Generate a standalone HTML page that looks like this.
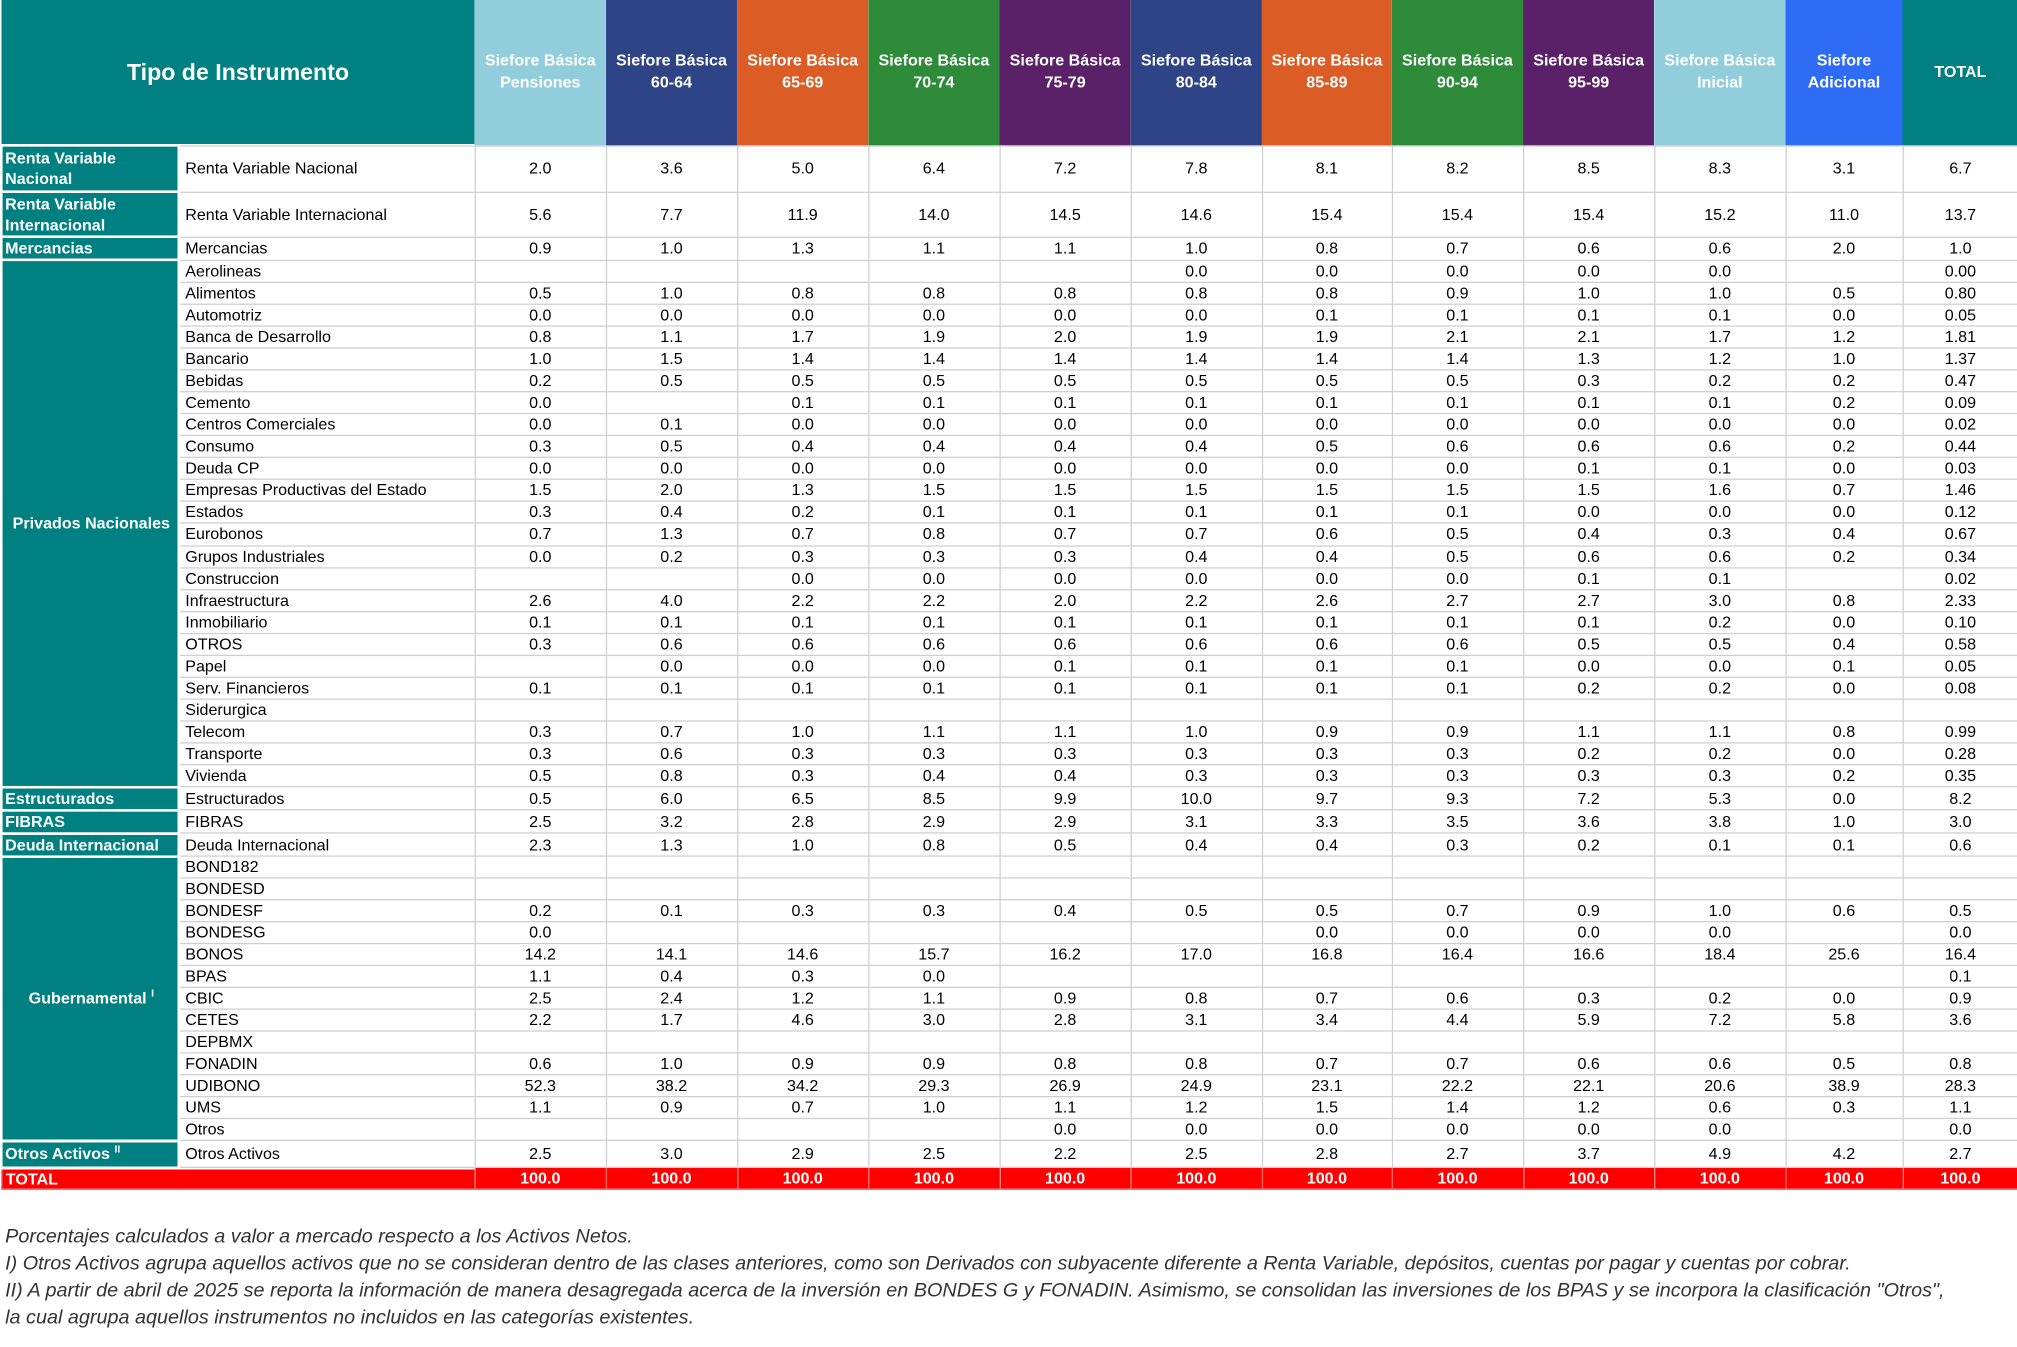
<!DOCTYPE html>
<html><head><meta charset="utf-8">
<style>
html,body{margin:0;padding:0;background:#fff;width:2017px;height:1347px;overflow:hidden}
#wrap{position:absolute;left:0;top:0;width:1568px;height:1047px;transform:scale(1.28635);transform-origin:0 0;font-family:"Liberation Sans",Arial,sans-serif}
table{border-collapse:collapse;table-layout:fixed;position:absolute;left:0;top:0;width:1568px}
td,th{padding:0;font-size:12.5px;line-height:14px;color:#000;border:1px solid #cfcfcf;overflow:hidden;white-space:nowrap}
th{color:#fff;font-weight:bold;font-size:12.5px;line-height:17px;height:112px;border:none}
td.v{text-align:center}
td.ins{padding-left:4px;text-align:left}
td.cat{background:#008080;color:#fff;font-weight:bold;border:2px solid #fff;padding-left:2px;white-space:normal;line-height:16px}
td.catc{text-align:center}
tr.tot td{background:#ff0000;color:#fff;font-weight:bold;border-color:#f06060}
#notes{position:absolute;left:4px;top:951px;font-style:italic;font-size:15.4px;line-height:21px;color:#333;white-space:nowrap}
sup{font-size:8px;line-height:0}
</style></head><body>
<div id="wrap">
<table id="t">
<colgroup><col style="width:138px"><col style="width:230px"><col style="width:102px"><col style="width:102px"><col style="width:102px"><col style="width:102px"><col style="width:102px"><col style="width:102px"><col style="width:101px"><col style="width:102px"><col style="width:102px"><col style="width:102px"><col style="width:91px"><col style="width:90px"></colgroup>
<thead><tr id="hdr">
<th colspan="2" style="background:#008080;font-size:18px">Tipo de Instrumento</th>
</tr></thead>
<tbody id="tb"></tbody>
</table>
<div id="notes">
<div>Porcentajes calculados a valor a mercado respecto a los Activos Netos.</div>
<div>I) Otros Activos agrupa aquellos activos que no se consideran dentro de las clases anteriores, como son Derivados con subyacente diferente a Renta Variable, depósitos, cuentas por pagar y cuentas por cobrar.</div>
<div>II) A partir de abril de 2025 se reporta la información de manera desagregada acerca de la inversión en BONDES G y FONADIN. Asimismo, se consolidan las inversiones de los BPAS y se incorpora la clasificación "Otros",</div>
<div>la cual agrupa aquellos instrumentos no incluidos en las categorías existentes.</div>
</div>
</div>
<script>
const headers=["Siefore Básica<br>Pensiones","Siefore Básica<br>60-64","Siefore Básica<br>65-69","Siefore Básica<br>70-74","Siefore Básica<br>75-79","Siefore Básica<br>80-84","Siefore Básica<br>85-89","Siefore Básica<br>90-94","Siefore Básica<br>95-99","Siefore Básica<br>Inicial","Siefore<br>Adicional","TOTAL"];
const headerColors=["#92CDDC","#2E4486","#DC5C26","#2E8B3A","#5A2068","#2E4486","#DC5C26","#2E8B3A","#5A2068","#92CDDC","#2F6CF5","#008080"];
const groups=[
["Renta Variable Nacional",1,36],["Renta Variable Internacional",1,35],["Mercancias",1,17],
["Privados Nacionales",24,17.08],["Estructurados",1,17.5],["FIBRAS",1,17.5],["Deuda Internacional",1,18],
["Gubernamental <sup>I</sup>",13,17.0],["Otros Activos <sup>II</sup>",1,21]];
const rows=[
["Renta Variable Nacional","2.0 3.6 5.0 6.4 7.2 7.8 8.1 8.2 8.5 8.3 3.1 6.7"],
["Renta Variable Internacional","5.6 7.7 11.9 14.0 14.5 14.6 15.4 15.4 15.4 15.2 11.0 13.7"],
["Mercancias","0.9 1.0 1.3 1.1 1.1 1.0 0.8 0.7 0.6 0.6 2.0 1.0"],
["Aerolineas","- - - - - 0.0 0.0 0.0 0.0 0.0 - 0.00"],
["Alimentos","0.5 1.0 0.8 0.8 0.8 0.8 0.8 0.9 1.0 1.0 0.5 0.80"],
["Automotriz","0.0 0.0 0.0 0.0 0.0 0.0 0.1 0.1 0.1 0.1 0.0 0.05"],
["Banca de Desarrollo","0.8 1.1 1.7 1.9 2.0 1.9 1.9 2.1 2.1 1.7 1.2 1.81"],
["Bancario","1.0 1.5 1.4 1.4 1.4 1.4 1.4 1.4 1.3 1.2 1.0 1.37"],
["Bebidas","0.2 0.5 0.5 0.5 0.5 0.5 0.5 0.5 0.3 0.2 0.2 0.47"],
["Cemento","0.0 - 0.1 0.1 0.1 0.1 0.1 0.1 0.1 0.1 0.2 0.09"],
["Centros Comerciales","0.0 0.1 0.0 0.0 0.0 0.0 0.0 0.0 0.0 0.0 0.0 0.02"],
["Consumo","0.3 0.5 0.4 0.4 0.4 0.4 0.5 0.6 0.6 0.6 0.2 0.44"],
["Deuda CP","0.0 0.0 0.0 0.0 0.0 0.0 0.0 0.0 0.1 0.1 0.0 0.03"],
["Empresas Productivas del Estado","1.5 2.0 1.3 1.5 1.5 1.5 1.5 1.5 1.5 1.6 0.7 1.46"],
["Estados","0.3 0.4 0.2 0.1 0.1 0.1 0.1 0.1 0.0 0.0 0.0 0.12"],
["Eurobonos","0.7 1.3 0.7 0.8 0.7 0.7 0.6 0.5 0.4 0.3 0.4 0.67"],
["Grupos Industriales","0.0 0.2 0.3 0.3 0.3 0.4 0.4 0.5 0.6 0.6 0.2 0.34"],
["Construccion","- - 0.0 0.0 0.0 0.0 0.0 0.0 0.1 0.1 - 0.02"],
["Infraestructura","2.6 4.0 2.2 2.2 2.0 2.2 2.6 2.7 2.7 3.0 0.8 2.33"],
["Inmobiliario","0.1 0.1 0.1 0.1 0.1 0.1 0.1 0.1 0.1 0.2 0.0 0.10"],
["OTROS","0.3 0.6 0.6 0.6 0.6 0.6 0.6 0.6 0.5 0.5 0.4 0.58"],
["Papel","- 0.0 0.0 0.0 0.1 0.1 0.1 0.1 0.0 0.0 0.1 0.05"],
["Serv. Financieros","0.1 0.1 0.1 0.1 0.1 0.1 0.1 0.1 0.2 0.2 0.0 0.08"],
["Siderurgica","- - - - - - - - - - - -"],
["Telecom","0.3 0.7 1.0 1.1 1.1 1.0 0.9 0.9 1.1 1.1 0.8 0.99"],
["Transporte","0.3 0.6 0.3 0.3 0.3 0.3 0.3 0.3 0.2 0.2 0.0 0.28"],
["Vivienda","0.5 0.8 0.3 0.4 0.4 0.3 0.3 0.3 0.3 0.3 0.2 0.35"],
["Estructurados","0.5 6.0 6.5 8.5 9.9 10.0 9.7 9.3 7.2 5.3 0.0 8.2"],
["FIBRAS","2.5 3.2 2.8 2.9 2.9 3.1 3.3 3.5 3.6 3.8 1.0 3.0"],
["Deuda Internacional","2.3 1.3 1.0 0.8 0.5 0.4 0.4 0.3 0.2 0.1 0.1 0.6"],
["BOND182","- - - - - - - - - - - -"],
["BONDESD","- - - - - - - - - - - -"],
["BONDESF","0.2 0.1 0.3 0.3 0.4 0.5 0.5 0.7 0.9 1.0 0.6 0.5"],
["BONDESG","0.0 - - - - - 0.0 0.0 0.0 0.0 - 0.0"],
["BONOS","14.2 14.1 14.6 15.7 16.2 17.0 16.8 16.4 16.6 18.4 25.6 16.4"],
["BPAS","1.1 0.4 0.3 0.0 - - - - - - - 0.1"],
["CBIC","2.5 2.4 1.2 1.1 0.9 0.8 0.7 0.6 0.3 0.2 0.0 0.9"],
["CETES","2.2 1.7 4.6 3.0 2.8 3.1 3.4 4.4 5.9 7.2 5.8 3.6"],
["DEPBMX","- - - - - - - - - - - -"],
["FONADIN","0.6 1.0 0.9 0.9 0.8 0.8 0.7 0.7 0.6 0.6 0.5 0.8"],
["UDIBONO","52.3 38.2 34.2 29.3 26.9 24.9 23.1 22.2 22.1 20.6 38.9 28.3"],
["UMS","1.1 0.9 0.7 1.0 1.1 1.2 1.5 1.4 1.2 0.6 0.3 1.1"],
["Otros","- - - - 0.0 0.0 0.0 0.0 0.0 0.0 - 0.0"],
["Otros Activos","2.5 3.0 2.9 2.5 2.2 2.5 2.8 2.7 3.7 4.9 4.2 2.7"]];
const totals=["100.0","100.0","100.0","100.0","100.0","100.0","100.0","100.0","100.0","100.0","100.0","100.0"];
const slug=s=>s.toLowerCase().replace(/<[^>]+>/g,'').replace(/[^a-z0-9]+/g,'-').replace(/^-|-$/g,'');
const hdr=document.getElementById('hdr');
headers.forEach((h,i)=>{
  const th=document.createElement('th');
  th.innerHTML=h;th.style.background=headerColors[i];
  
  
  hdr.appendChild(th);
});
const tb=document.getElementById('tb');
let ri=0;
groups.forEach(g=>{
  for(let k=0;k<g[1];k++){
    const r=rows[ri++];
    const tr=document.createElement('tr');
    tr.style.height=g[2]+'px';
    
    
    if(k===0){
      const c=document.createElement('td');
      c.className='cat'+(g[1]>1?' catc':'');
      c.rowSpan=g[1];c.innerHTML=g[0];
      
      
      tr.appendChild(c);
    }
    const n=document.createElement('td');
    n.className='ins';n.textContent=r[0];
    
    
    tr.appendChild(n);
    r[1].split(' ').forEach(v=>{
      const d=document.createElement('td');
      d.className='v';d.textContent=v==='-'?'':v;
      
      
      tr.appendChild(d);
    });
    tb.appendChild(tr);
  }
});
const tr=document.createElement('tr');
tr.className='tot';tr.style.height='17px';


const tl=document.createElement('td');
tl.colSpan=2;tl.textContent='TOTAL';tl.style.paddingLeft='3px';


tr.appendChild(tl);
totals.forEach(v=>{
  const d=document.createElement('td');
  d.className='v';d.textContent=v;
  
  
  tr.appendChild(d);
});
tb.appendChild(tr);
</script>
</body></html>
